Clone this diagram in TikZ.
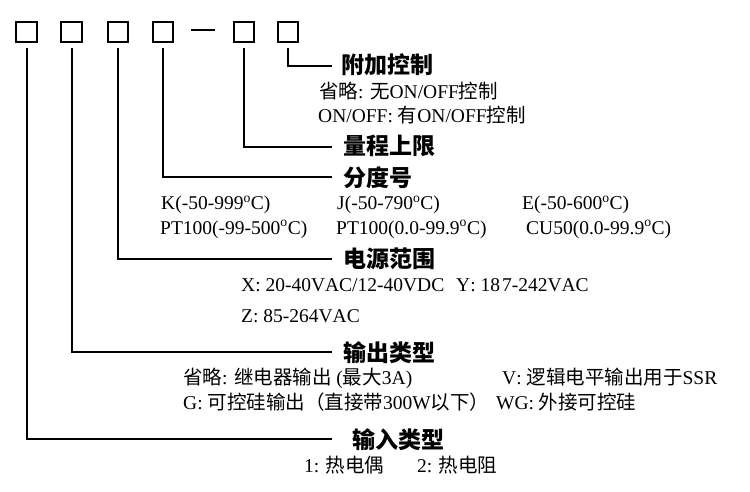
\documentclass[tikz,border=0pt]{standalone}
\usepackage{fontspec}
\setmainfont{Liberation Serif}[Kerning=Off]
\newfontfamily\zhfont{Noto Sans CJK SC}
\newfontfamily\heifont{Noto Sans CJK SC}
\newcommand\zh[1]{{\zhfont #1}}
\newcommand\dg{\textsuperscript{o}}
\tikzset{
  codebox/.style={draw, line width=2.2pt, minimum width=20.5pt, minimum height=20.5pt, inner sep=0pt},
  conn/.style={line width=2pt, shorten <=5pt},
  head/.style={anchor=base west, inner sep=0pt, font=\heifont\bfseries\fontsize{23}{24}\selectfont},
  body/.style={anchor=base west, inner sep=0pt, font=\fontsize{19.5}{20}\selectfont},
}
\begin{document}
\begin{tikzpicture}[x=1pt,y=-1pt]
\useasboundingbox (0,0) rectangle (750,492);
% boxes
\node[codebox] (b1) at (26.5,32) {};
\node[codebox] (b2) at (71.5,32) {};
\node[codebox] (b3) at (118,32) {};
\node[codebox] (b4) at (163,32) {};
\node[codebox] (b5) at (244,32) {};
\node[codebox] (b6) at (288,32) {};
\draw[line width=2pt] (191,30) -- (215,30);
% line ends
\coordinate (e6) at (332,66);
\coordinate (e5) at (332,147);
\coordinate (e4) at (332,177);
\coordinate (e3) at (332,259);
\coordinate (e2) at (332,352);
\coordinate (e1) at (332,439);
\draw[conn] (b6.south) |- (e6);
\draw[conn] (b5.south) |- (e5);
\draw[conn] (b4.south) |- (e4);
\draw[conn] (b3.south) |- (e3);
\draw[conn] (b2.south) |- (e2);
\draw[conn] (b1.south) |- (e1);
% headings
\node[head] (t6) at (341,74) {附加控制};
\node[head] (t5) at (343,155) {量程上限};
\node[head] (t4) at (343,186) {分度号};
\node[head] (t3) at (343,267) {电源范围};
\node[head] (t2) at (343,361) {输出类型};
\node[head] (t1) at (352,448) {输入类型};
% body texts
\node[body] (a1) at (319,99) {\zh{省略}: \zh{无}ON/OFF\zh{控制}};
\node[body] (a2) at (318,123) {ON/OFF: \zh{有}ON/OFF\zh{控制}};
\node[body] (k1) at (161,210) {K(-50-999\dg C)};
\node[body] (k2) at (337,210) {J(-50-790\dg C)};
\node[body] (k3) at (522,210) {E(-50-600\dg C)};
\node[body] (k4) at (160,234) {PT100(-99-500\dg C)};
\node[body] (k5) at (336,234) {PT100(0.0-99.9\dg C)};
\node[body] (k6) at (526,234) {CU50(0.0-99.9\dg C)};
\node[body] (p1) at (241,291) {X: 20-40VAC/12-40VDC};
\node[body] (p2) at (456,291) {Y: 18\kern2pt 7-242VAC};
\node[body] (p3) at (241,322) {Z: 85-264VAC};
\node[body] (o1) at (183,384) {\zh{省略}: \zh{继电器输出} (\zh{最大}3A)};
\node[body] (o2) at (502,384) {V: \zh{逻辑电平输出用于}SSR};
\node[body] (o3) at (183,409) {G: \zh{可控硅输出（直接带}300W\zh{以下）}};
\node[body] (o4) at (496,409) {WG: \zh{外接可控硅}};
\node[body] (i1) at (304,472) {1: \zh{热电偶}};
\node[body] (i2) at (417,472) {2: \zh{热电阻}};
\end{tikzpicture}
\end{document}
